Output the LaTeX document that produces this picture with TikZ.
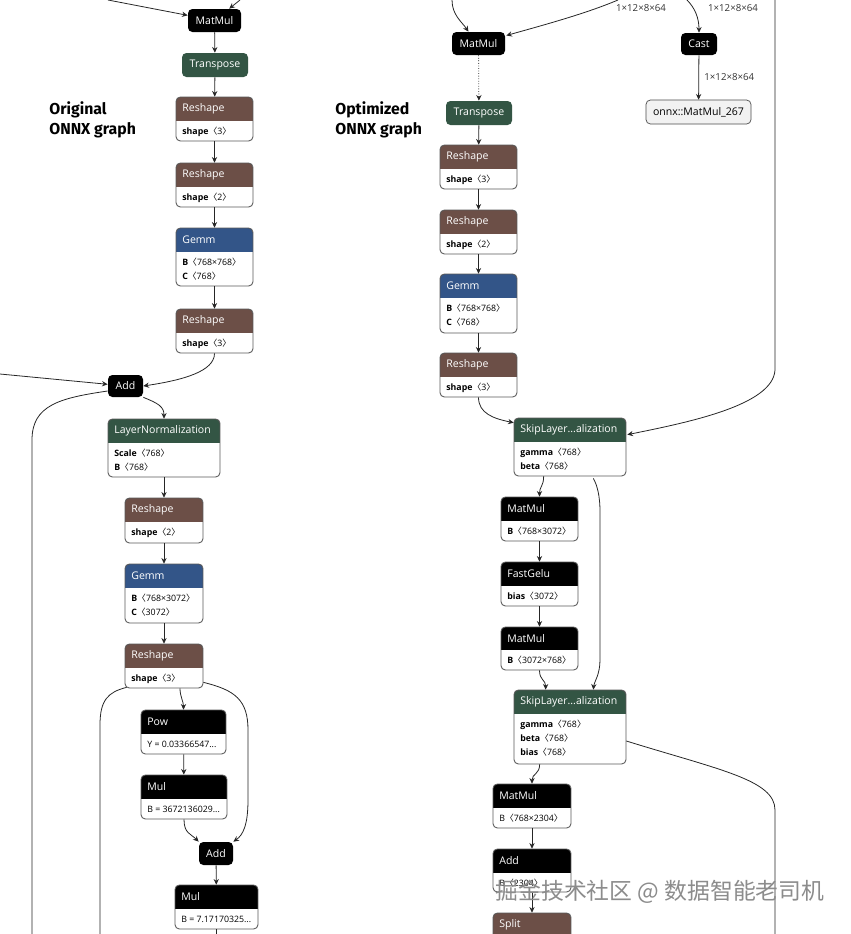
\documentclass[tikz,border=0pt]{standalone}
\usepackage{fontspec}
\setmainfont{Open Sans}
\newfontfamily\titlefont{Fira Sans}
\newfontfamily\cjk{Noto Sans CJK SC}
\usetikzlibrary{arrows.meta,fit,calc}

% colours of the operator kinds
\definecolor{opshape}{RGB}{108,79,71}
\definecolor{oplayer}{RGB}{51,85,136}
\definecolor{opnorm}{RGB}{51,85,68}

\newcommand{\headfont}{\fontsize{6}{7}\selectfont}
\newcommand{\attrfont}{\fontsize{5}{8}\selectfont}
\newcommand{\br}[1]{{\cjk 〈}#1{\cjk 〉}}

\tikzset{
  boxline/.style={draw=black!65, line width=0.5pt, rounded corners=2.5pt},
  headtxt/.style={anchor=west, text=white, font=\headfont, inner sep=0pt, xshift=3.4pt},
  bodytxt/.style={anchor=north west, align=left, font=\attrfont, inner xsep=3.4pt, inner ysep=2.9pt},
  blackop/.style={fill=black, rounded corners=2.5pt, inner sep=0pt},
  greenop/.style={blackop, fill=opnorm},
  inputop/.style={draw=black!70, fill=black!5, rounded corners=2.5pt, inner sep=0pt},
  optxt/.style={font=\headfont, text=white, inner sep=0pt},
  conn/.style={draw=black!85, line width=0.45pt, -{Stealth[length=3.2pt,width=3pt]}},
  wire/.style={draw=black!85, line width=0.45pt},
  dimlbl/.style={font=\fontsize{5.5}{6}\selectfont, text=black!80, inner sep=1pt},
  titletxt/.style={anchor=north west, align=left, inner sep=0pt,
    font=\titlefont\bfseries\fontsize{9}{11.3}\selectfont}
}

% name, style, x1, y1, x2, y2, text
\newcommand{\smallop}[7]{%
  \node[#2, fit={(#3,#4) (#5,#6)}] (#1) {};
  \node[optxt] at (#1.center) {#7};
}

% name, colour, x1, y1, x2, y2, header bottom, title, attributes
\newcommand{\opbox}[9]{%
  \node[fit={(#3,#4) (#5,#6)}, inner sep=0pt] (#1) {};
  \begin{scope}
    \clip[rounded corners=2.5pt] (#3,#4) rectangle (#5,#6);
    \fill[#2] (#3,#4) rectangle (#5,#7);
  \end{scope}
  \draw[boxline] (#3,#4) rectangle (#5,#6);
  \node[headtxt] at (#3,{(#4+#7)/2}) {#8};
  \node[bodytxt] at (#3,#7) {\rule{0pt}{4.5pt}#9};
}

\begin{document}
\begin{tikzpicture}[x=0.02cm,y=-0.02cm]

\fill[white] (0,0) rectangle (850,934);
\useasboundingbox (0,0) rectangle (850,934);

% Titles
\node[titletxt] (ttlL) at (49,101) {Original\\ONNX graph};
\node[titletxt] (ttlR) at (335,101) {Optimized\\ONNX graph};

% ---------------- Original graph ----------------
\smallop{mmL}{blackop}{188}{9}{241}{32}{MatMul}
\smallop{trL}{greenop}{182}{53}{248}{77}{Transpose}
\opbox{rsL1}{opshape}{176}{97}{253}{141}{121}{Reshape}{\textbf{shape}\br{3}}
\opbox{rsL2}{opshape}{176}{163}{253}{207}{187}{Reshape}{\textbf{shape}\br{2}}
\opbox{gmL1}{oplayer}{176}{228}{253}{286}{252}{Gemm}{\textbf{B}\br{768×768}\\\textbf{C}\br{768}}
\opbox{rsL3}{opshape}{176}{309}{253}{353}{333}{Reshape}{\textbf{shape}\br{3}}
\smallop{addL1}{blackop}{108}{375}{143}{397}{Add}
\opbox{lnL}{opnorm}{108}{419}{220}{477}{443}{LayerNormalization}{\textbf{Scale}\br{768}\\\textbf{B}\br{768}}
\opbox{rsL4}{opshape}{125}{498}{203}{543}{522}{Reshape}{\textbf{shape}\br{2}}
\opbox{gmL2}{oplayer}{125}{564}{203}{623}{588}{Gemm}{\textbf{B}\br{768×3072}\\\textbf{C}\br{3072}}
\opbox{rsL5}{opshape}{125}{644}{203}{688}{668}{Reshape}{\textbf{shape}\br{3}}
\opbox{powL}{black}{141}{710}{226}{754}{734}{Pow}{Y = 0.03366547...}
\opbox{mulL1}{black}{141}{775}{227}{819}{799}{Mul}{B = 3672136029...}
\smallop{addL2}{blackop}{199}{842}{233}{865}{Add}
\opbox{mulL2}{black}{175}{885}{258}{929}{909}{Mul}{B = 7.17170325...}

% inputs coming from above
\coordinate (srcA) at (108,0);
\coordinate (srcB) at (240,0);
\coordinate (srcC) at (0,374);
\draw[conn] (srcA) -- (mmL);
\draw[conn] (srcB) -- (mmL);
\draw[conn] (mmL) -- (trL);
\draw[conn] (trL) -- (rsL1);
\draw[conn] (rsL1) -- (rsL2);
\draw[conn] (rsL2) -- (gmL1);
\draw[conn] (gmL1) -- (rsL3);
\draw[conn] (rsL3.south) .. controls +(0,18) and +(40,-6) .. (addL1.east);
\draw[conn] (srcC) -- (addL1);
\draw[conn] (addL1.south east) .. controls +(15,6) and +(0,-12) .. (lnL.north);
\draw[wire] ($(addL1.west)+(0,5)$) .. controls (60,398) and (32,405) .. (32,440) -- (32,934);
\draw[conn] (lnL) -- (rsL4);
\draw[conn] (rsL4) -- (gmL2);
\draw[conn] (gmL2) -- (rsL5);
\draw[wire] ($(rsL5.south west)+(2,-1)$) .. controls (108,692) and (100,700) .. (100,725) -- (100,934);
\draw[conn] ($(rsL5.south east)+(0,-6)$) .. controls (235,690) and (248,700) .. (248,730)
  -- (248,800) .. controls (248,825) and (243,835) .. (addL2.north east);
\draw[conn] ($(rsL5.south)+(16,0)$) .. controls +(0,8) and +(0,-8) .. (powL.north);
\draw[conn] (powL) -- (mulL1);
\draw[conn] (mulL1.south) .. controls +(0,14) and +(-8,-8) .. (addL2.north west);
\draw[conn] (addL2) -- (mulL2);
\draw[wire] (mulL2.south) -- +(0,6);

% ---------------- Optimized graph ----------------
\smallop{mmR}{blackop}{452}{32}{505}{55}{MatMul}
\smallop{castR}{blackop}{681}{33}{717}{55}{Cast}
\node[inputop, fit={(646,100) (751,124)}] (mm267) {};
\node[optxt, text=black] at (mm267.center) {onnx::MatMul\_267};
\smallop{trR}{greenop}{446}{101}{512}{125}{Transpose}
\opbox{rsR1}{opshape}{440}{145}{517}{189}{169}{Reshape}{\textbf{shape}\br{3}}
\opbox{rsR2}{opshape}{440}{210}{517}{254}{234}{Reshape}{\textbf{shape}\br{2}}
\opbox{gmR}{oplayer}{440}{274}{517}{333}{298}{Gemm}{\textbf{B}\br{768×768}\\\textbf{C}\br{768}}
\opbox{rsR3}{opshape}{440}{353}{517}{397}{377}{Reshape}{\textbf{shape}\br{3}}
\opbox{skR1}{opnorm}{514}{418}{626}{476}{442}{SkipLayer...alization}{\textbf{gamma}\br{768}\\\textbf{beta}\br{768}}
\opbox{mmR1}{black}{501}{497}{578}{541}{521}{MatMul}{\textbf{B}\br{768×3072}}
\opbox{geluR}{black}{501}{562}{578}{606}{586}{FastGelu}{\textbf{bias}\br{3072}}
\opbox{mmR2}{black}{501}{627}{578}{670}{650}{MatMul}{\textbf{B}\br{3072×768}}
\opbox{skR2}{opnorm}{514}{690}{626}{764}{714}{SkipLayer...alization}{\textbf{gamma}\br{768}\\\textbf{beta}\br{768}\\\textbf{bias}\br{768}}
\opbox{mmR3}{black}{493}{784}{571}{828}{808}{MatMul}{B\br{768×2304}}
\opbox{addR}{black}{493}{849}{571}{892}{873}{Add}{B\br{2304}}
\opbox{splitR}{opshape}{493}{913}{571}{960}{937}{Split}{}

\coordinate (srcD) at (452,0);
\coordinate (srcE) at (618,0);
\coordinate (srcF) at (687,0);
\coordinate (srcG) at (775,0);
\draw[conn] (srcD) .. controls (452,15) and (462,22) .. ($(mmR.north)+(-10,0)$);
\draw[conn] (srcE) .. controls (585,14) and (540,26) .. ($(mmR.east)+(1,-8)$);
\draw[conn] (srcF) .. controls (695,8) and (699,18) .. (castR.north);
\node[dimlbl] (dimE) at (641,8) {1×12×8×64};
\node[dimlbl] (dimF) at (733,8) {1×12×8×64};
\draw[conn] (castR) -- node[dimlbl, right=2pt] (dimC) {1×12×8×64} (mm267);
\draw[conn, densely dotted] (mmR) -- (trR);
\draw[conn] (trR) -- (rsR1);
\draw[conn] (rsR1) -- (rsR2);
\draw[conn] (rsR2) -- (gmR);
\draw[conn] (gmR) -- (rsR3);
\draw[conn] (rsR3.south) .. controls +(0,16) and +(-20,-4) .. ($(skR1.north west)+(0,5)$);
\draw[conn] (srcG) -- (775,370) .. controls (773,405) and (690,422) .. ($(skR1.north east)+(1,17)$);
\draw[conn] ($(skR1.south west)+(30,0)$) .. controls +(0,10) and +(0,-10) .. (mmR1.north);
\draw[conn] ($(skR1.south east)+(-33,2)$) .. controls (597,485) and (600,495) .. (600,512)
  -- (600,660) .. controls (600,675) and (594,682) .. ($(skR2.north east)+(-33,0)$);
\draw[conn] (mmR1) -- (geluR);
\draw[conn] (geluR) -- (mmR2);
\draw[conn] (mmR2.south) .. controls +(0,10) and +(0,-10) .. ($(skR2.north west)+(32,0)$);
\draw[conn] ($(skR2.south west)+(26,0)$) .. controls +(0,10) and +(0,-10) .. (mmR3.north);
\draw[wire] ($(skR2.east)+(0,14)$) .. controls (720,770) and (775,780) .. (775,810) -- (775,934);
\draw[conn] (mmR3) -- (addR);
\draw[conn] (addR) -- (splitR);

% watermark
\node[font=\cjk\fontsize{13}{13}\selectfont, text=black!45, inner sep=0pt] (wmark) at (660,892)
  {掘金技术社区 @ 数据智能老司机};

\end{tikzpicture}
\end{document}
